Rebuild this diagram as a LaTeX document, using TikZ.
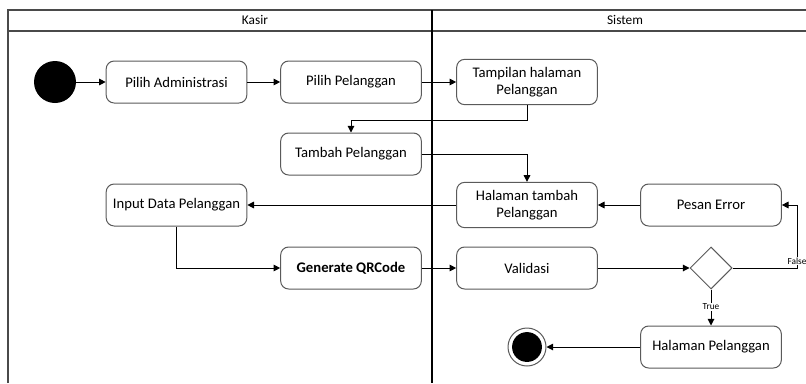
\documentclass[tikz,border=0pt]{standalone}
\usepackage{fontspec}
\setmainfont{Carlito}
\usetikzlibrary{arrows.meta,shapes.geometric}
\definecolor{Edge}{HTML}{5A5A5A}
\definecolor{Lane}{HTML}{4A4A4A}

\begin{document}
\begin{tikzpicture}[x=0.75pt,y=-0.75pt,
  act/.style={draw=Edge,fill=white,rounded corners=6pt,minimum width=105.5pt,minimum height=31.5pt,align=center,font=\fontsize{11}{13}\selectfont,line width=0.75pt},
  act2/.style={act,minimum height=34pt},
  flow/.style={-{Triangle[length=5pt,width=5pt]},line width=0.75pt},
  guard/.style={fill=white,inner sep=0.5pt,font=\fontsize{7}{8}\selectfont},
  lane/.style={draw=Lane,line width=0.8pt}
]
\useasboundingbox (0,0) rectangle (806,383);
% swimlanes
\draw[lane] (8,383) -- (8,10) -- (806,10);
\draw[lane] (8,31) -- (806,31);
\draw[line width=0.8pt] (432,10) -- (432,383);
\node[font=\fontsize{10}{12}\selectfont] (kasir) at (255,20) {Kasir};
\node[font=\fontsize{10}{12}\selectfont] (sistem) at (625,20) {Sistem};
% nodes
\node[circle,fill=black,minimum size=31.5pt,inner sep=0pt] (start) at (55,82) {};
\node[act] (adm) at (176.5,82) {Pilih Administrasi};
\node[act] (pilih) at (351,82) {Pilih Pelanggan};
\node[act2] (tampil) at (527,82) {Tampilan halaman\\Pelanggan};
\node[act] (tambah) at (351,154) {Tambah Pelanggan};
\node[act2] (haltambah) at (527,205) {Halaman tambah\\Pelanggan};
\node[act] (error) at (711,205) {Pesan Error};
\node[act] (input) at (176.5,205) {Input Data Pelanggan};
\node[act] (qr) at (351,268) {\textbf{Generate QRCode}};
\node[act] (valid) at (527,268) {Validasi};
\node[diamond,draw=Edge,fill=white,line width=0.75pt,minimum width=31.5pt,minimum height=31.5pt,inner sep=0pt] (cek) at (711,268) {};
\node[act] (halpel) at (711,347) {Halaman Pelanggan};
\node[circle,draw=Edge,fill=white,line width=0.75pt,minimum size=28.5pt,inner sep=0pt] (end) at (527,347) {};
\fill (end.center) circle[radius=11.2pt];
\coordinate (fbend) at (797,268);
% flows
\draw[flow] (start) -- (adm);
\draw[flow] (adm) -- (pilih);
\draw[flow] (pilih) -- (tampil);
\draw[flow] (tampil.south) -- ++(0,15) -| (tambah.north);
\draw[flow] (tambah.east) -| (haltambah.north);
\draw[flow] (haltambah.west) -- (input.east);
\draw[flow] (error.west) -- (haltambah.east);
\draw[flow] (input.south) |- (qr.west);
\draw[flow] (qr.east) -- (valid.west);
\draw[flow] (valid.east) -- (cek.west);
\draw[flow] (cek.east) -- (fbend) |- (error.east);
\draw[flow] (cek.south) -- (halpel.north);
\draw[flow] (halpel.west) -- (end);
\node[guard] (no) at (797,261) {False};
\node[guard] (yes) at (711,307) {True};
\end{tikzpicture}
\end{document}
